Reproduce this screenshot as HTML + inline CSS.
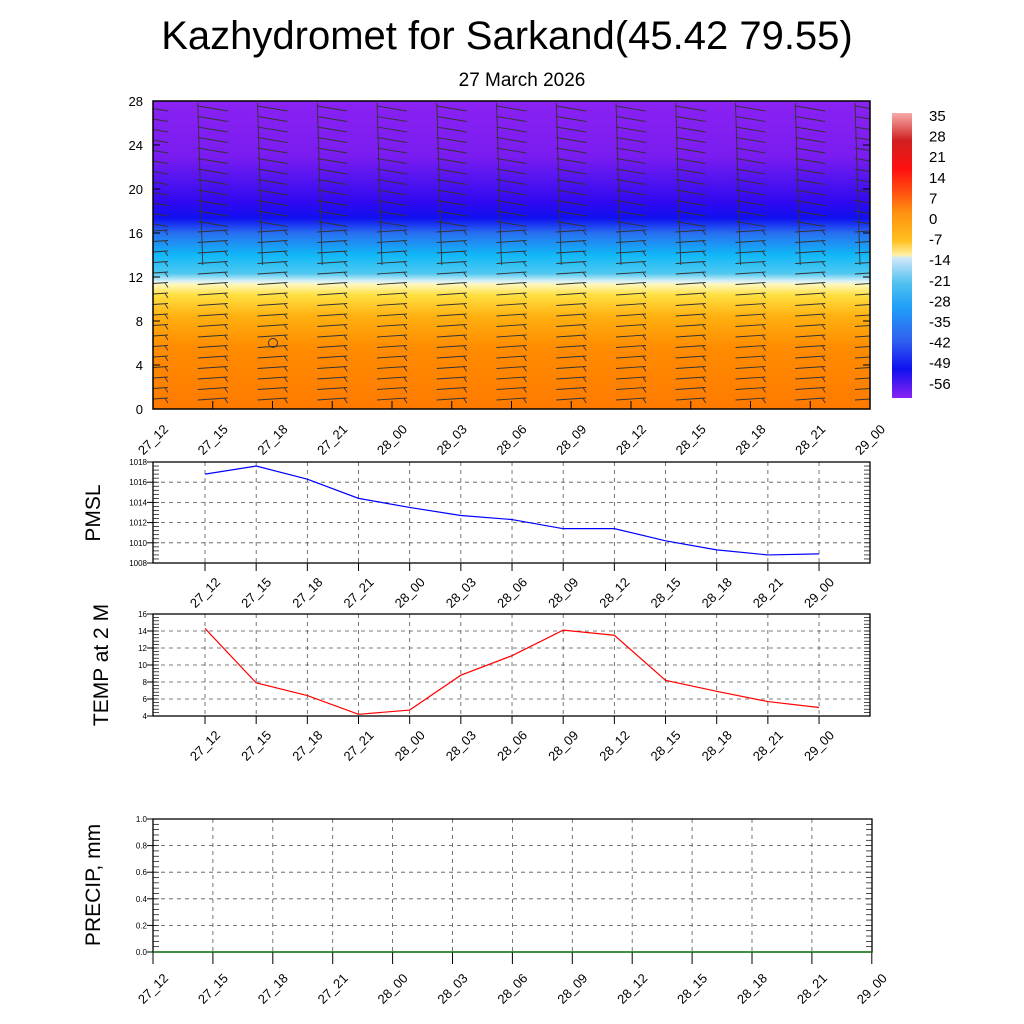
<!DOCTYPE html>
<html><head><meta charset="utf-8"><style>
body{margin:0;background:#fff;}
svg{display:block;font-family:"Liberation Sans",sans-serif;}
</style></head><body>
<svg id="s" width="1024" height="1024" xmlns="http://www.w3.org/2000/svg">
<defs>
<linearGradient id="g" x1="0" y1="101" x2="0" y2="409" gradientUnits="userSpaceOnUse">
<stop offset="0" stop-color="#8a22f2"/>
<stop offset="0.18" stop-color="#7a1cf0"/>
<stop offset="0.26" stop-color="#5014f0"/>
<stop offset="0.33" stop-color="#3008f0"/>
<stop offset="0.38" stop-color="#1010f0"/>
<stop offset="0.43" stop-color="#2870f0"/>
<stop offset="0.5" stop-color="#10b8f8"/>
<stop offset="0.56" stop-color="#50c8f0"/>
<stop offset="0.585" stop-color="#d8f0f8"/>
<stop offset="0.595" stop-color="#fff8c0"/>
<stop offset="0.63" stop-color="#ffe040"/>
<stop offset="0.7" stop-color="#ffb010"/>
<stop offset="0.8" stop-color="#ff8c00"/>
<stop offset="1" stop-color="#ff7a00"/>
</linearGradient>
<linearGradient id="cb" x1="0" y1="112" x2="0" y2="398" gradientUnits="userSpaceOnUse">
<stop offset="0" stop-color="#f8b0b0"/>
<stop offset="0.1" stop-color="#d02020"/>
<stop offset="0.2" stop-color="#ff1010"/>
<stop offset="0.28" stop-color="#ff5010"/>
<stop offset="0.35" stop-color="#ff9010"/>
<stop offset="0.45" stop-color="#ffc020"/>
<stop offset="0.5" stop-color="#fff0a0"/>
<stop offset="0.51" stop-color="#d0e8f8"/>
<stop offset="0.6" stop-color="#50c0f0"/>
<stop offset="0.68" stop-color="#20a0f8"/>
<stop offset="0.8" stop-color="#3060f0"/>
<stop offset="0.9" stop-color="#1010f0"/>
<stop offset="1" stop-color="#8a22f2"/>
</linearGradient>
<clipPath id="cp"><rect x="153" y="101" width="717" height="308"/></clipPath>
</defs>
<text x="507" y="49" font-size="40" text-anchor="middle">Kazhydromet for Sarkand(45.42 79.55)</text>
<text x="522" y="86" font-size="19" text-anchor="middle">27 March 2026</text>
<rect x="153" y="101" width="717" height="308" fill="url(#g)"/>
<g id="barbs" stroke="#333" stroke-width="0.9" fill="none" clip-path="url(#cp)"></g>
<rect x="153" y="101" width="717" height="308" fill="none" stroke="#000" stroke-width="1.5"/>
<circle cx="273" cy="343" r="4.5" fill="none" stroke="#333"/>
<rect x="892" y="113" width="20" height="285" fill="url(#cb)"/>
<g id="cbl" font-size="15"></g>
<g id="ax"></g>
<text transform="translate(100,513) rotate(-90)" font-size="21" text-anchor="middle">PMSL</text>
<text transform="translate(108,665) rotate(-90)" font-size="21" text-anchor="middle">TEMP at 2 M</text>
<text transform="translate(100,885) rotate(-90)" font-size="21" text-anchor="middle">PRECIP, mm</text>
</svg>
<script>
const NS="http://www.w3.org/2000/svg";
function el(p,t,a,txt){const e=document.createElementNS(NS,t);for(const k in a)e.setAttribute(k,a[k]);if(txt!=null)e.textContent=txt;p.appendChild(e);return e;}
const ax=document.getElementById('ax');
const labs=["27_12","27_15","27_18","27_21","28_00","28_03","28_06","28_09","28_12","28_15","28_18","28_21","29_00"];
const cbl=document.getElementById('cbl');
[35,28,21,14,7,0,-7,-14,-21,-28,-35,-42,-49,-56].forEach((v,i)=>el(cbl,'text',{x:929,y:121+i*20.6},String(v)));
const bg=document.getElementById('barbs');
for(let k=0;k<13;k++){const cx=153+k*59.75;
 for(let y=106;y<405;y+=10.5){
  const top=y<230;
  el(bg,'line',{x1:cx-15,y1:y,x2:cx+15,y2:y+(top?5:-2)});
  if(!top) el(bg,'line',{x1:cx+12,y1:y-1.5,x2:cx+15,y2:y+3});
 }
 el(bg,'line',{x1:cx-15,y1:103,x2:cx-10,y2:265});
}
for(let i=0;i<=28;i+=4){const y=409-i*11;el(ax,'text',{x:143,y:y+5,'font-size':13,'text-anchor':'end'},String(i));el(ax,'line',{x1:153,y1:y,x2:160,y2:y,stroke:'#000'});el(ax,'line',{x1:870,y1:y,x2:863,y2:y,stroke:'#000'});}
labs.forEach((l,k)=>{const x=153+k*59.75;el(ax,'line',{x1:x,y1:409,x2:x,y2:401,stroke:'#000'});el(ax,'text',{transform:`translate(${x+16},${430}) rotate(-45)`,'font-size':13,'text-anchor':'end'},l);});
function panel(y0,y1,vmin,vmax,step,vals,col,fmt){
 const X0=153,X1=870;
 const ty=v=>y1-(v-vmin)/(vmax-vmin)*(y1-y0);
 const xs=k=>205+k*51.17;
 for(let v=vmin;v<=vmax+1e-9;v+=step){const y=ty(v);
  if(v>vmin&&v<vmax)el(ax,'line',{x1:X0,y1:y,x2:X1,y2:y,stroke:'#555','stroke-dasharray':'4,4','stroke-width':0.8});
  el(ax,'text',{x:147,y:y+3,'font-size':8,'text-anchor':'end'},fmt(v));
  el(ax,'line',{x1:X0-6,y1:y,x2:X0,y2:y,stroke:'#000'});
 }
 for(let v=vmin;v<=vmax;v+=step/5){const y=ty(v);el(ax,'line',{x1:X0,y1:y,x2:X0+6,y2:y,stroke:'#000','stroke-width':0.7});el(ax,'line',{x1:X1,y1:y,x2:X1-6,y2:y,stroke:'#000','stroke-width':0.7});}
 labs.forEach((l,k)=>{const x=xs(k);el(ax,'line',{x1:x,y1:y0,x2:x,y2:y1,stroke:'#555','stroke-dasharray':'4,4','stroke-width':0.8});el(ax,'line',{x1:x,y1:y1,x2:x,y2:y1+8,stroke:'#000'});el(ax,'text',{transform:`translate(${x+16},${y1+20}) rotate(-45)`,'font-size':13,'text-anchor':'end'},l);});
 el(ax,'rect',{x:X0,y:y0,width:X1-X0,height:y1-y0,fill:'none',stroke:'#000','stroke-width':1.3});
 el(ax,'polyline',{points:vals.map((v,k)=>xs(k)+','+ty(v)).join(' '),fill:'none',stroke:col,'stroke-width':1.2});
}
panel(462,563,1008,1018,2,[1016.8,1017.6,1016.3,1014.4,1013.5,1012.7,1012.3,1011.4,1011.4,1010.2,1009.3,1008.8,1008.9],'#00f',v=>String(v));
panel(614,716,4,16,2,[14.3,7.9,6.4,4.2,4.7,8.8,11.1,14.1,13.5,8.2,6.9,5.7,5.0],'#f00',v=>String(v));
(function(){const X0=153,X1=872,y0=819,y1=952;const ty=v=>y1-v*(y1-y0);
 for(let i=0;i<=5;i++){const v=i*0.2,y=ty(v);if(i>0&&i<5)el(ax,'line',{x1:X0,y1:y,x2:X1,y2:y,stroke:'#555','stroke-dasharray':'4,4','stroke-width':0.8});el(ax,'text',{x:147,y:y+3,'font-size':8,'text-anchor':'end'},v.toFixed(1));el(ax,'line',{x1:X0-6,y1:y,x2:X0,y2:y,stroke:'#000'});}
 for(let v=0;v<=1.0001;v+=0.04){const y=ty(v);el(ax,'line',{x1:X0,y1:y,x2:X0+6,y2:y,stroke:'#000','stroke-width':0.7});el(ax,'line',{x1:X1,y1:y,x2:X1-6,y2:y,stroke:'#000','stroke-width':0.7});}
 labs.forEach((l,k)=>{const x=X0+k*59.9;if(k>0&&k<12)el(ax,'line',{x1:x,y1:y0,x2:x,y2:y1,stroke:'#555','stroke-dasharray':'4,4','stroke-width':0.8});el(ax,'line',{x1:x,y1:y1,x2:x,y2:y1+12,stroke:'#000'});el(ax,'text',{transform:`translate(${x+16},${y1+27}) rotate(-45)`,'font-size':13,'text-anchor':'end'},l);});
 el(ax,'rect',{x:X0,y:y0,width:X1-X0,height:y1-y0,fill:'none',stroke:'#000','stroke-width':1.3});
 el(ax,'line',{x1:X0,y1:y1,x2:X1,y2:y1,stroke:'#070','stroke-width':1.2});
})();
</script>
</body></html>
